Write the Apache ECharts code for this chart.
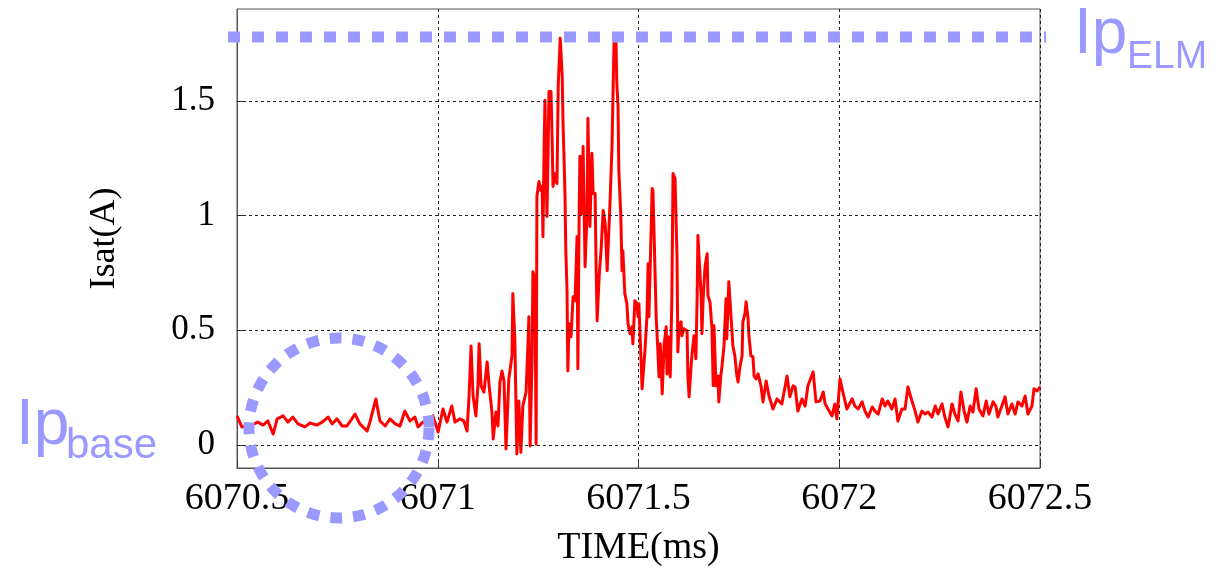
<!DOCTYPE html>
<html>
<head>
<meta charset="utf-8">
<script src="https://cdn.jsdelivr.net/npm/echarts@6/dist/echarts.min.js"></script>
<style>
  html, body { margin: 0; padding: 0; background: #fff; }
  #chart { width: 1216px; height: 569px; }
</style>
</head>
<body>
<div id="chart"></div>
<script>
// Ion saturation current of the probe, [time (ms), Isat (A)]
// Quiet phase before the ELM
const preElm = [
  [6070.500,0.127],[6070.512,0.079],[6070.532,0.083],[6070.552,0.100],[6070.565,0.087],[6070.577,0.105],
  [6070.590,0.048],[6070.600,0.114],[6070.615,0.127],[6070.627,0.100],[6070.639,0.122],[6070.652,0.092],
  [6070.669,0.079],[6070.682,0.096],[6070.699,0.087],[6070.712,0.100],[6070.727,0.122],[6070.737,0.092],
  [6070.749,0.114],[6070.762,0.083],[6070.774,0.083],[6070.794,0.135],[6070.806,0.092],[6070.824,0.061],
  [6070.831,0.100],[6070.846,0.201],[6070.856,0.105],[6070.869,0.083],[6070.881,0.114],[6070.894,0.092],
  [6070.906,0.083],[6070.918,0.148],[6070.931,0.105],[6070.943,0.122],[6070.951,0.079],[6070.963,0.100],
  [6070.976,0.092],[6070.988,0.127],[6071.001,0.057],[6071.013,0.157],[6071.023,0.100],[6071.035,0.170],
  [6071.043,0.100],[6071.055,0.114],[6071.065,0.105],[6071.073,0.061]
];
// ELM burst
const elmBurst = [
  [6071.078,0.214],[6071.083,0.432],[6071.088,0.214],[6071.095,0.127],[6071.100,0.258],[6071.103,0.441],
  [6071.108,0.258],[6071.115,0.231],[6071.123,0.362],[6071.128,0.258],[6071.135,0.144],[6071.138,0.026],
  [6071.145,0.144],[6071.150,0.083],[6071.155,0.275],[6071.160,0.323],[6071.165,0.279],[6071.170,-0.017],
  [6071.177,0.288],[6071.185,0.389],[6071.187,0.659],[6071.192,0.463],[6071.197,-0.039],[6071.202,0.192],
  [6071.207,-0.031],[6071.212,0.170],[6071.220,0.231],[6071.225,0.454],[6071.227,0.559],[6071.230,-0.004],
  [6071.235,0.384],[6071.237,0.755],[6071.242,0.716],[6071.245,0.004],[6071.247,1.083],[6071.252,1.148],
  [6071.257,1.109],[6071.260,1.127],[6071.262,0.908],[6071.265,1.301],[6071.267,1.502],[6071.272,0.996],
  [6071.275,1.301],[6071.277,1.541],[6071.282,1.541],[6071.285,1.328],[6071.287,1.127],[6071.292,1.183],
  [6071.297,1.140],[6071.300,1.563],[6071.305,1.773],[6071.310,1.607],[6071.312,1.402],[6071.314,1.284],
  [6071.317,1.083],[6071.319,0.847],[6071.322,0.672],[6071.324,0.323],[6071.327,0.528],[6071.332,0.472],
  [6071.337,0.646],[6071.342,0.629],[6071.347,0.908],[6071.349,0.332],[6071.352,0.965],[6071.354,1.258],
  [6071.359,1.009],[6071.362,1.301],[6071.367,0.777],[6071.372,1.022],[6071.374,1.424],[6071.379,0.952],
  [6071.384,1.271],[6071.387,1.096],[6071.392,1.096],[6071.394,0.821],[6071.397,0.541],[6071.402,0.734],
  [6071.407,0.856],[6071.412,1.022],[6071.417,0.965],[6071.422,0.760],[6071.424,0.847],[6071.429,1.052],
  [6071.434,1.301],[6071.437,1.576],[6071.439,1.751],[6071.444,1.760],[6071.446,1.576],[6071.449,1.476],
  [6071.451,1.197],[6071.456,0.996],[6071.459,0.760],[6071.461,0.847],[6071.466,0.659],[6071.471,0.616],
  [6071.474,0.528],[6071.479,0.485],[6071.484,0.515],[6071.486,0.441],[6071.491,0.629],[6071.496,0.616],
  [6071.499,0.559],[6071.501,0.616],[6071.506,0.384],[6071.509,0.245],[6071.511,0.253],[6071.516,0.410],
  [6071.521,0.559],[6071.524,0.790],[6071.526,0.559],[6071.531,0.908],[6071.534,1.118],[6071.536,1.109],
  [6071.539,0.908],[6071.544,0.559],[6071.549,0.384],[6071.551,0.297],[6071.554,0.441],[6071.556,0.384],
  [6071.559,0.223],[6071.564,0.441],[6071.569,0.515],[6071.571,0.310],[6071.574,0.472],[6071.579,0.297],
  [6071.583,0.629],[6071.586,1.183],[6071.591,1.162],[6071.596,0.812],[6071.598,0.406]
];
// Decay and return to the base level
const postElm = [
  [6071.601,0.520],[6071.606,0.537],[6071.608,0.476],[6071.613,0.507],[6071.621,0.498],[6071.623,0.301],
  [6071.626,0.210],[6071.631,0.345],[6071.633,0.389],[6071.638,0.476],[6071.643,0.376],[6071.646,0.638],
  [6071.648,0.913],[6071.651,0.812],[6071.656,0.651],[6071.658,0.485],[6071.661,0.638],[6071.666,0.782],
  [6071.671,0.834],[6071.673,0.651],[6071.678,0.624],[6071.683,0.507],[6071.686,0.258],[6071.688,0.520],
  [6071.693,0.258],[6071.698,0.301],[6071.700,0.188],[6071.705,0.301],[6071.708,0.345],[6071.713,0.432],
  [6071.718,0.638],[6071.720,0.463],[6071.725,0.712],[6071.728,0.624],[6071.733,0.493],[6071.735,0.432],
  [6071.740,0.389],[6071.745,0.301],[6071.748,0.275],[6071.753,0.345],[6071.758,0.389],[6071.760,0.537],
  [6071.765,0.572],[6071.768,0.624],[6071.773,0.550],[6071.775,0.476],[6071.780,0.389],[6071.785,0.384],
  [6071.788,0.301],[6071.793,0.288],[6071.798,0.310],[6071.805,0.258],[6071.810,0.188],[6071.818,0.279],
  [6071.825,0.214],[6071.835,0.157],[6071.845,0.201],[6071.857,0.179],[6071.870,0.301],[6071.877,0.210],
  [6071.885,0.258],[6071.890,0.253],[6071.897,0.148],[6071.907,0.201],[6071.915,0.170],[6071.922,0.258],
  [6071.935,0.319],[6071.942,0.188],[6071.952,0.192],[6071.960,0.231],[6071.965,0.179],[6071.972,0.157],
  [6071.982,0.127],[6071.989,0.179],[6071.994,0.114],[6072.002,0.288],[6072.009,0.231],[6072.019,0.157],
  [6072.032,0.201],[6072.039,0.170],[6072.047,0.157],[6072.057,0.188],[6072.064,0.148],[6072.072,0.122],
  [6072.082,0.166],[6072.089,0.148],[6072.097,0.135],[6072.107,0.201],[6072.114,0.170],[6072.121,0.192],
  [6072.131,0.157],[6072.139,0.201],[6072.146,0.105],[6072.156,0.157],[6072.164,0.157],[6072.171,0.253],
  [6072.181,0.192],[6072.189,0.148],[6072.196,0.100],[6072.206,0.148],[6072.214,0.135],[6072.221,0.144],
  [6072.231,0.122],[6072.239,0.170],[6072.246,0.135],[6072.256,0.179],[6072.263,0.122],[6072.271,0.079],
  [6072.281,0.179],[6072.288,0.135],[6072.296,0.105],[6072.303,0.231],[6072.311,0.148],[6072.318,0.100],
  [6072.326,0.170],[6072.333,0.144],[6072.341,0.245],[6072.348,0.157],[6072.358,0.127],[6072.366,0.192],
  [6072.373,0.135],[6072.383,0.188],[6072.390,0.170],[6072.395,0.122],[6072.405,0.170],[6072.413,0.210],
  [6072.420,0.135],[6072.430,0.179],[6072.438,0.135],[6072.445,0.188],[6072.455,0.170],[6072.463,0.214],
  [6072.470,0.135],[6072.480,0.170],[6072.485,0.245],[6072.493,0.236],[6072.500,0.253]
];

// Axis ticks
const xTicks = [6070.5, 6071, 6071.5, 6072, 6072.5];
const yTicks = [0, 0.5, 1, 1.5];

const SERIF = '"Liberation Serif", "Times New Roman", serif';
const SANS = '"Liberation Sans", Arial, sans-serif';
const ANNOT = '#9999ff';

const chart = echarts.init(document.getElementById('chart'), null, { renderer: 'canvas' });

const gridDash = { color: '#222', width: 1, type: [3, 3] };

chart.setOption({
  animation: false,
  backgroundColor: '#ffffff',
  grid: {
    left: 237, right: 176, top: 9, bottom: 101,
    containLabel: false,
    outerBoundsMode: 'none',
    show: true, borderColor: '#555', borderWidth: 1, backgroundColor: 'transparent'
  },
  xAxis: {
    type: 'value',
    min: xTicks[0], max: xTicks[xTicks.length - 1], interval: 0.5,
    name: 'TIME(ms)', nameLocation: 'middle', nameGap: 61,
    nameTextStyle: { fontFamily: SERIF, fontSize: 38, color: '#000' },
    axisLine: { show: true, onZero: false, lineStyle: { color: '#555', width: 1 } },
    axisTick: { show: true, inside: true, length: 7, lineStyle: { color: '#333' } },
    axisLabel: { fontFamily: SERIF, fontSize: 38, color: '#000', margin: 12,
                 formatter: v => String(v), showMinLabel: true, showMaxLabel: true },
    splitLine: { show: true, lineStyle: gridDash }
  },
  yAxis: {
    type: 'value',
    min: -0.1, max: 1.9,
    name: 'Isat(A)', nameLocation: 'middle', nameGap: 114, nameRotate: 90,
    nameTextStyle: { fontFamily: SERIF, fontSize: 36, color: '#000' },
    axisLine: { show: true, onZero: false, lineStyle: { color: '#555', width: 1 } },
    axisTick: { show: true, inside: true, length: 7, customValues: yTicks, lineStyle: { color: '#333' } },
    axisLabel: { fontFamily: SERIF, fontSize: 35, color: '#000', margin: 22,
                 customValues: yTicks, formatter: v => String(v) },
    splitLine: { show: false }
  },
  series: [
    {
      // horizontal grid lines at the labelled Isat levels
      type: 'line', data: [], silent: true, z: 1,
      markLine: {
        silent: true, symbol: ['none', 'none'], label: { show: false },
        lineStyle: gridDash, animation: false,
        data: yTicks.map(v => ({ yAxis: v }))
      }
    },
    {
      name: 'Isat', type: 'line', z: 3,
      data: preElm.concat(elmBurst, postElm),
      showSymbol: false, symbol: 'none',
      lineStyle: { color: '#ff0000', width: 3, join: 'round' },
      clip: true
    }
  ],
  graphic: [
    {
      // dotted ring around the base level
      type: 'circle', z: 100, silent: true,
      shape: { cx: 339, cy: 428, r: 90 },
      style: { fill: 'none', stroke: ANNOT, lineWidth: 11, lineDash: [12, 11] }
    },
    {
      // dotted line at the ELM peak level
      type: 'line', z: 100, silent: true,
      shape: { x1: 228, y1: 37, x2: 1046, y2: 37 },
      style: { stroke: ANNOT, lineWidth: 11, lineDash: [12, 12] }
    },
    { type: 'text', z: 100, x: 1074, y: 35,
      style: { text: 'Ip', fill: ANNOT, font: '64px ' + SANS, verticalAlign: 'middle', align: 'left' } },
    { type: 'text', z: 100, x: 1127, y: 57,
      style: { text: 'ELM', fill: ANNOT, font: '39px ' + SANS, verticalAlign: 'middle', align: 'left' } },
    { type: 'text', z: 100, x: 16, y: 426,
      style: { text: 'Ip', fill: ANNOT, font: '64px ' + SANS, verticalAlign: 'middle', align: 'left' } },
    { type: 'text', z: 100, x: 66, y: 446,
      style: { text: 'base', fill: ANNOT, font: '42px ' + SANS, verticalAlign: 'middle', align: 'left' } }
  ]
});
</script>
</body>
</html>
